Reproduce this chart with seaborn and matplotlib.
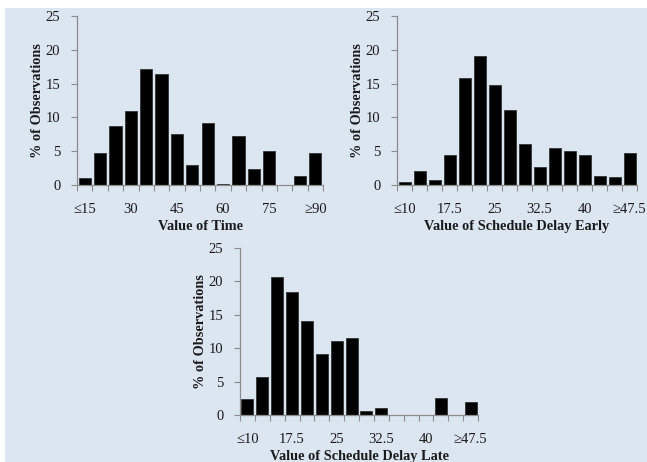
import numpy as np
import pandas as pd
import matplotlib
matplotlib.use("Agg")
import matplotlib.pyplot as plt
import seaborn as sns
from matplotlib.patches import Rectangle

# bin labels (only every third is shown)
vot_bins = ["≤15", "20", "25", "30", "35", "40", "45", "50", "55", "60",
            "65", "70", "75", "80", "85", "≥90"]
sd_bins = ["≤10", "12.5", "15", "17.5", "20", "22.5", "25", "27.5", "30",
           "32.5", "35", "37.5", "40", "42.5", "45", "≥47.5"]

# % of observations per bin
vot_pct = [1.0, 4.7, 8.8, 10.9, 17.2, 16.4, 7.6, 2.9, 9.2, 0.2, 7.2, 2.3,
           5.1, 0.0, 1.4, 4.7]
sde_pct = [0.4, 2.0, 0.8, 4.5, 15.8, 19.1, 14.8, 11.1, 6.0, 2.7, 5.5, 5.1,
           4.5, 1.4, 1.2, 4.7]
sdl_pct = [2.4, 5.7, 20.7, 18.4, 14.1, 9.2, 11.1, 11.5, 0.6, 1.0, 0.0, 0.0,
           0.0, 2.6, 0.0, 2.0]

sns.set_style("white")
plt.rcParams["font.family"] = ["Liberation Serif", "DejaVu Serif"]

fig = plt.figure(figsize=(6.47, 4.62), dpi=100, facecolor="white")
# light blue slide background
fig.patches.append(Rectangle((5 / 647, 0), 1, 1 - 8 / 462, transform=fig.transFigure,
                             facecolor="#dce6f1", edgecolor="none", zorder=-1))

grey = "#8c8c8c"


def draw_hist(rect, bins, pct, xlabel):
    ax = fig.add_axes(rect)
    ax.set_facecolor("none")
    df = pd.DataFrame({"bin": bins, "pct": pct})
    sns.barplot(data=df, x="bin", y="pct", color="black", width=0.8,
                edgecolor="#333333", linewidth=0.6, saturation=1, ax=ax)
    n = len(bins)
    ax.set_xlim(-0.5, n - 0.5)
    ax.set_ylim(0, 25)
    ax.set_yticks([0, 5, 10, 15, 20, 25])
    ax.set_xticks(range(0, n, 3))
    ax.set_xticklabels([bins[i] for i in range(0, n, 3)])
    ax.set_xticks(np.arange(-0.5, n, 1), minor=True)
    ax.tick_params(axis="x", which="major", length=0, pad=13, labelsize=10.5,
                   labelcolor="#1a1a1a")
    ax.tick_params(axis="x", which="minor", length=4, color=grey, width=0.8,
                   direction="out", bottom=True)
    ax.tick_params(axis="y", length=4, color=grey, width=0.8, direction="out",
                   left=True, labelsize=10.5, pad=8, labelcolor="#1a1a1a")
    for s in ["top", "right"]:
        ax.spines[s].set_visible(False)
    for s in ["left", "bottom"]:
        ax.spines[s].set_color(grey)
        ax.spines[s].set_linewidth(0.9)
    ax.set_xlabel(xlabel, fontweight="bold", fontsize=10.3, labelpad=3,
                  color="#1a1a1a")
    ax.set_ylabel("% of Observations", fontweight="bold", fontsize=10.3,
                  labelpad=1, color="#1a1a1a")
    return ax


draw_hist([77 / 647, 1 - 185 / 462, 246 / 647, 169 / 462], vot_bins, vot_pct,
          "Value of Time")
draw_hist([397 / 647, 1 - 185 / 462, 240 / 647, 169 / 462], sd_bins, sde_pct,
          "Value of Schedule Delay Early")
draw_hist([240 / 647, 1 - 415 / 462, 238 / 647, 167 / 462], sd_bins, sdl_pct,
          "Value of Schedule Delay Late")

fig.savefig("out.png", dpi=100, facecolor="white")
